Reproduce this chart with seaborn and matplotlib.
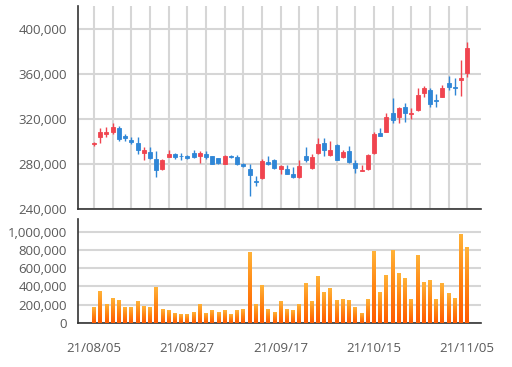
import numpy as np
import pandas as pd
import matplotlib
matplotlib.use("Agg")
import matplotlib.pyplot as plt
import seaborn as sns
from matplotlib.ticker import FuncFormatter, MultipleLocator, FixedLocator
from matplotlib.colors import LinearSegmentedColormap

dates = ["21/08/05", "21/08/06", "21/08/09", "21/08/10", "21/08/11", "21/08/12", "21/08/13",
         "21/08/17", "21/08/18", "21/08/19", "21/08/20", "21/08/23", "21/08/24", "21/08/25",
         "21/08/26", "21/08/27", "21/08/30", "21/08/31", "21/09/01", "21/09/02", "21/09/03",
         "21/09/06", "21/09/07", "21/09/08", "21/09/09", "21/09/10", "21/09/13", "21/09/14",
         "21/09/15", "21/09/16", "21/09/17", "21/09/23", "21/09/24", "21/09/27", "21/09/28",
         "21/09/29", "21/09/30", "21/10/01", "21/10/05", "21/10/06", "21/10/07", "21/10/08",
         "21/10/12", "21/10/13", "21/10/14", "21/10/15", "21/10/18", "21/10/19", "21/10/20",
         "21/10/21", "21/10/22", "21/10/25", "21/10/26", "21/10/27", "21/10/28", "21/10/29",
         "21/11/01", "21/11/02", "21/11/03", "21/11/04", "21/11/05"]

opens = [298000, 303700, 306700, 308200, 311700, 304600, 301400, 299200, 289900, 291000,
         284500, 275500, 285900, 288900, 287500, 287400, 289800, 286800, 289000, 286800,
         285000, 280500, 287100, 285900, 280000, 275500, 265100, 267200, 282000, 283600,
         275500, 275500, 271100, 268100, 287400, 276400, 290300, 298700, 288300, 297200,
         285900, 291800, 281200, 273400, 275500, 290300, 307600, 309000, 325400, 322100,
         331000, 324600, 328100, 343300, 345900, 337000, 340000, 352200, 348900, 355100,
         360700]
closes = [299000, 309000, 308900, 313200, 302300, 302800, 299600, 292700, 292700, 285000,
          274700, 283600, 288900, 285900, 286800, 285300, 285900, 289800, 286000, 280500,
          280900, 286800, 286500, 280500, 278500, 270500, 264200, 282900, 280000, 276400,
          277900, 271600, 268100, 277900, 283600, 286500, 297800, 292500, 292700, 283800,
          291200, 282000, 276400, 275000, 288300, 306700, 305200, 321500, 319700, 329900,
          325100, 325400, 341500, 347700, 333500, 336400, 347700, 348300, 347700, 356300,
          383400]
highs = [300000, 311700, 312600, 316500, 313900, 306700, 303700, 304300, 295400, 294800,
         291800, 284500, 292500, 290300, 290300, 288300, 292500, 291500, 291500, 287400,
         285300, 288300, 288300, 288000, 280900, 280000, 269600, 284500, 287400, 284100,
         279400, 279400, 277000, 283600, 294800, 289000, 303200, 303200, 300800, 297800,
         292500, 295700, 283600, 279100, 289400, 309000, 311700, 325100, 338800, 331000,
         334600, 330100, 347400, 349800, 347700, 342400, 350000, 358700, 356600, 372700,
         389000]
lows = [296500, 299200, 304300, 306700, 300800, 300800, 297800, 289400, 283600, 284500,
        268100, 274900, 285900, 284100, 283800, 284700, 285300, 281400, 284400, 280000,
        280000, 280000, 285300, 279400, 277000, 251800, 260700, 266600, 279400, 275800,
        271100, 271100, 267200, 267800, 282000, 275500, 289000, 287400, 287400, 283600,
        285300, 281400, 272500, 273400, 274900, 289400, 304600, 308200, 316200, 316200,
        317100, 320100, 327500, 339700, 330400, 331000, 339700, 345900, 341500, 340200,
        358000]
volumes = [170000, 342000, 200000, 265000, 251000, 170000, 170000, 240000, 185000, 170000,
           393000, 145000, 134000, 105000, 91000, 91000, 120000, 200000, 109000, 134000,
           120000, 134000, 91000, 134000, 145000, 771000, 200000, 415000, 145000, 120000,
           236000, 145000, 134000, 207000, 429000, 236000, 505000, 338000, 378000, 251000,
           262000, 251000, 170000, 105000, 262000, 778000, 338000, 520000, 789000, 546000,
           491000, 262000, 742000, 443000, 469000, 262000, 429000, 327000, 273000, 964000,
           830000]

sns.set_theme(style="white")
plt.rcParams["font.family"] = ["Open Sans", "DejaVu Sans"]

df = pd.DataFrame({"date": dates, "open": opens, "close": closes,
                   "high": highs, "low": lows, "volume": volumes})
df["idx"] = np.arange(len(df))

RED = "#f0444f"
BLUE = "#2f86d6"
GRID = "#d6d6d6"
SPINE = "#333333"
TXT = "#5a5a5a"

fig = plt.figure(figsize=(5.12, 3.67), dpi=100)
ax1 = fig.add_axes([78/512, 1-209/367, (481-78)/512, (209-6)/367])
ax2 = fig.add_axes([78/512, 1-323/367, (481-78)/512, (323-219)/367])

# ---- candles ----
up = df["close"] >= df["open"]
colors = np.where(up, RED, BLUE)
body_bottom = np.minimum(df["open"], df["close"])
body_h = np.maximum(np.abs(df["close"] - df["open"]), 700)
ax1.vlines(df["idx"], df["low"], df["high"], colors=colors, linewidth=1.0, zorder=3)
ax1.bar(df["idx"], body_h, bottom=body_bottom, width=0.64, color=colors,
        edgecolor=colors, linewidth=0.6, zorder=4)

ax1.set_xlim(-2.57, 62.2)
ax1.set_ylim(240000, 420800)
ax1.yaxis.set_major_locator(FixedLocator([240000, 280000, 320000, 360000, 400000]))
ax1.yaxis.set_major_formatter(FuncFormatter(lambda v, _: f"{int(v):,}"))
ax1.xaxis.set_major_locator(MultipleLocator(3))
ax1.set_xticklabels([])
ax1.grid(True, which="major", axis="both", color=GRID, linewidth=1.5)
ax1.set_axisbelow(True)

# ---- volume ----
sns.barplot(data=df, x="idx", y="volume", ax=ax2, color="#ff8c1a", width=0.62,
            saturation=1, errorbar=None, zorder=3)
cmap = LinearSegmentedColormap.from_list("vol", ["#ff5a00", "#ff8412", "#ffb238"])
grad = np.linspace(0, 1, 64).reshape(-1, 1)
for p in ax2.patches:
    x0 = p.get_x(); w = p.get_width(); h = p.get_height()
    ax2.imshow(grad, extent=[x0, x0 + w, 0, h], origin="lower", cmap=cmap,
               aspect="auto", zorder=4, interpolation="bilinear")
    p.set_visible(False)

ax2.set_xlim(-2.57, 62.2)
ax2.set_ylim(0, 1139000)
ax2.yaxis.set_major_locator(FixedLocator([0, 200000, 400000, 600000, 800000, 1000000]))
ax2.yaxis.set_major_formatter(FuncFormatter(lambda v, _: f"{int(v):,}"))
ticks = [0, 15, 30, 45, 60]
ax2.xaxis.set_major_locator(FixedLocator(ticks))
ax2.set_xticklabels([dates[i] for i in ticks])
ax2.grid(True, axis="y", color=GRID, linewidth=1.5)
ax2.grid(False, axis="x")
ax2.set_axisbelow(True)
ax2.set_xlabel("")
ax2.set_ylabel("")

for ax in (ax1, ax2):
    for s in ("top", "right"):
        ax.spines[s].set_visible(False)
    for s in ("left", "bottom"):
        ax.spines[s].set_color(SPINE)
        ax.spines[s].set_linewidth(1.2)
    ax.tick_params(axis="both", length=0, labelsize=9.5, labelcolor=TXT)
    ax.tick_params(axis="y", pad=8)
ax2.tick_params(axis="x", pad=14)

fig.savefig("out.png", dpi=100, facecolor="white")
